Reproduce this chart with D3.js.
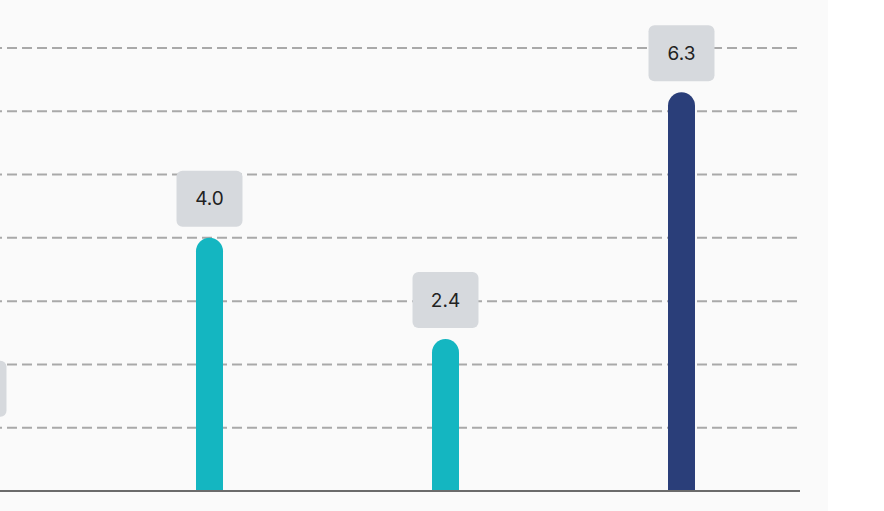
<!DOCTYPE html>
<meta charset="utf-8">
<style>
    body { margin: 0; background: #fff; }
    .grid line { stroke: #a9a9a9; stroke-width: 2; stroke-dasharray: 10 5; stroke-dashoffset: 8; }
    .label text { font-family: Inter, "Open Sans", sans-serif; font-size: 19px; fill: #222; }
</style>
<svg width="884" height="511"></svg>
<script src="https://d3js.org/d3.v7.min.js"></script>
<script>

    // data
    var categories = ["A", "B", "C", "D"];
    var values = [1.0, 4.0, 2.4, 6.3];
    var colors = ["#14b6c1", "#14b6c1", "#14b6c1", "#2a3e79"];
    var gridTicks = [1, 2, 3, 4, 5, 6, 7];

    var svg = d3.select("svg");

    var y = d3.scaleLinear().domain([0, 7]).range([491, 48]);
    var x = d3.scalePoint().domain(categories).range([-26.5, 681.5]);

    var barW = 27,
        boxW = 66,
        boxH = 56;

    // panel background
    svg.append("rect")
            .attr("x", 0).attr("y", 0)
            .attr("width", 828).attr("height", 511)
            .attr("fill", "#fafafa");

    svg.append("g")
            .attr("class", "grid")
            .selectAll("line")
            .data(gridTicks)
            .enter().append("line")
            .attr("x1", 0).attr("x2", 800)
            .attr("y1", function(d) { return y(d); })
            .attr("y2", function(d) { return y(d); });

    // bars with a rounded top
    svg.append("g")
            .selectAll("path")
            .data(values)
            .enter().append("path")
            .attr("fill", function(d, i) { return colors[i]; })
            .attr("d", function(d, i) {
                var cx = x(categories[i]), r = barW / 2,
                    top = y(d), bottom = y(0);
                var p = d3.path();
                p.moveTo(cx - r, bottom);
                p.lineTo(cx - r, top + r);
                p.arc(cx, top + r, r, Math.PI, 0);
                p.lineTo(cx + r, bottom);
                p.closePath();
                return p.toString();
            });

    // baseline
    svg.append("line")
            .attr("x1", 0).attr("x2", 800)
            .attr("y1", y(0)).attr("y2", y(0))
            .attr("stroke", "#6b6b6b")
            .attr("stroke-width", 2);

    var label = svg.append("g")
            .attr("class", "label")
            .selectAll("g")
            .data(values)
            .enter().append("g")
            .attr("transform", function(d, i) {
                return "translate(" + x(categories[i]) + "," + (y(d) - 11 - boxH) + ")";
            });

    label.append("rect")
            .attr("x", -boxW / 2)
            .attr("width", boxW)
            .attr("height", boxH)
            .attr("rx", 6)
            .attr("fill", "#d6d9dd");

    label.append("text")
            .attr("x", 0)
            .attr("y", boxH / 2)
            .attr("dy", "0.35em")
            .attr("text-anchor", "middle")
            .text(function(d) { return d.toFixed(1); });

</script>
